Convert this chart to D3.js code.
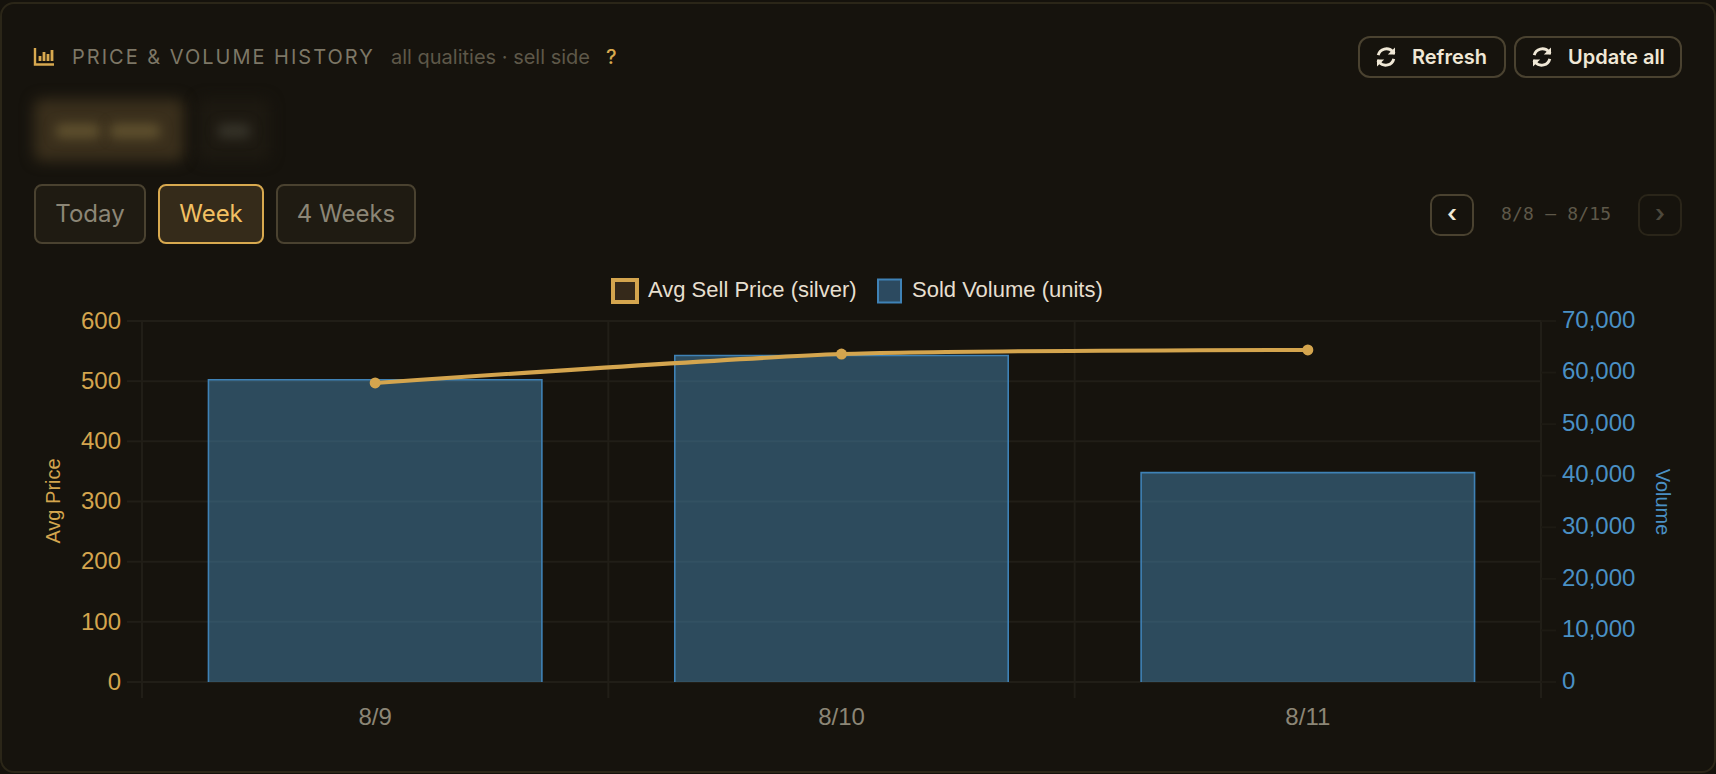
<!DOCTYPE html>
<html>
<head>
<meta charset="utf-8">
<script src="https://cdn.jsdelivr.net/npm/d3@7"></script>
<style>
  html, body { margin: 0; padding: 0; background: #15120c; overflow: hidden; }
  body { width: 1716px; height: 774px; position: relative; font-family: Inter, sans-serif; }
  .panel { position: absolute; left: 0; top: 2px; width: 1712px; height: 767px; background: #16130d;
           border: 2px solid #2b2618; border-radius: 14px; }
  .abs { position: absolute; white-space: nowrap; }
  .title { left: 72px; top: 45px; font-size: 20px; line-height: 24px; letter-spacing: 2px; color: #7d7766; }
  .sub { left: 391px; top: 45px; font-size: 20px; line-height: 24px; color: #5e5849; }
  .help { left: 606px; top: 45px; font-size: 20px; line-height: 24px; color: #d8a94f; font-weight: 500; }
  .btn { box-sizing: border-box; border: 2px solid #4a4230; border-radius: 12px; top: 36px; height: 42px;
         color: #f0e8d6; font-size: 20px; font-weight: 600; line-height: 38px; }
  .btn svg { position: absolute; left: 14px; top: 7px; }
  .btn span { position: absolute; top: 0; }
  .tab { box-sizing: border-box; top: 184px; height: 60px; border: 2px solid #4a4230; border-radius: 8px;
         background: #1f1b12; color: #8c8676; font-size: 24px; line-height: 56px; text-align: center; }
  .tab.on { background: #352b1a; border-color: #d8a94f; color: #f2c063; }
  .nav { box-sizing: border-box; top: 194px; width: 44px; height: 42px; border: 2px solid #4a4230; border-radius: 10px;
         text-align: center; color: #f0e8d6; font-size: 24px; font-weight: 600; line-height: 36px; }
  .nav.off { border-color: #2a2519; color: #4d483c; }
  .range { left: 1501px; top: 203px; font-family: "DejaVu Sans Mono", monospace; font-size: 18px; letter-spacing: 0.2px; line-height: 22px; color: #5e5849; }
  .chip { position: absolute; top: 99px; height: 62px; border-radius: 8px; filter: blur(7px); }
  .blurText { position: absolute; top: 124px; height: 14px; background: #61522f; border-radius: 4px; filter: blur(6px); }
  svg.chart { position: absolute; left: 0; top: 0; font-family: "Liberation Sans", Arial, sans-serif; }
</style>
</head>
<body>
<div class="panel"></div>
<script>
// chart values
const days = ["8/9", "8/10", "8/11"];
const avgPrice = [497, 545, 552];
const soldVolume = [58600, 63300, 40600];
const priceTicks = [0, 100, 200, 300, 400, 500, 600];
const volumeTicks = [0, 10000, 20000, 30000, 40000, 50000, 60000, 70000];
const tabs = ["Today", "Week", "4 Weeks"];

const GOLD = "#d4a54e";
const BLUE = "#4a90c4";
const GRID = "#211e17";

// ---- page furniture above the chart ----
const body = d3.select("body");

// bar chart icon next to the title
const icon = body.append("svg").attr("class", "abs")
  .style("left", "33px").style("top", "47px")
  .attr("width", 24).attr("height", 21);
icon.append("path").attr("d", "M2 1V17.5H21").attr("fill", "none").attr("stroke", "#d8a94f").attr("stroke-width", 2.4);
[[7, 9, 14], [11, 5, 14], [15, 7, 14], [19, 3, 14]].forEach(b => {
  icon.append("path").attr("d", `M${b[0]} ${b[1]}V${b[2]}`).attr("stroke", "#d8a94f").attr("stroke-width", 2.8);
});

body.append("div").attr("class", "abs title").text("PRICE & VOLUME HISTORY");
body.append("div").attr("class", "abs sub").text("all qualities · sell side");
body.append("div").attr("class", "abs help").text("?");

function refreshIcon(sel) {
  const s = sel.append("svg").attr("width", 24).attr("height", 24).attr("viewBox", "0 0 20 20");
  s.append("path").attr("d", "M3.5 8.5A7 7 0 0 1 15.5 5.5L17 7").attr("fill", "none").attr("stroke", "#f0e8d6").attr("stroke-width", 2.4);
  s.append("path").attr("d", "M17.5 2V8H11.5Z").attr("fill", "#f0e8d6");
  s.append("path").attr("d", "M16.5 11.5A7 7 0 0 1 4.5 14.5L3 13").attr("fill", "none").attr("stroke", "#f0e8d6").attr("stroke-width", 2.4);
  s.append("path").attr("d", "M2.5 18V12H8.5Z").attr("fill", "#f0e8d6");
}
[["Refresh", 1358, 148, 52], ["Update all", 1514, 168, 52]].forEach(b => {
  const el = body.append("div").attr("class", "abs btn")
    .style("left", b[1] + "px").style("width", b[2] + "px");
  refreshIcon(el);
  el.append("span").style("left", b[3] + "px").text(b[0]);
});

// blurred out item selector
body.append("div").attr("class", "chip").style("left", "34px").style("width", "150px").style("background", "#3a2f1c");
body.append("div").attr("class", "chip").style("left", "198px").style("width", "72px").style("background", "#1d1911");
body.append("div").attr("class", "blurText").style("left", "56px").style("width", "44px");
body.append("div").attr("class", "blurText").style("left", "110px").style("width", "50px");
body.append("div").attr("class", "blurText")
  .style("left", "218px").style("width", "32px").style("background", "#37342a");

const tabPos = [[34, 112], [158, 106], [276, 140]];
tabs.forEach((t, i) => {
  body.append("div").attr("class", "abs tab" + (t === "Week" ? " on" : ""))
    .style("left", tabPos[i][0] + "px").style("width", tabPos[i][1] + "px").text(t);
});

body.append("div").attr("class", "abs nav").style("left", "1430px").text("‹");
body.append("div").attr("class", "abs range").text("8/8 – 8/15");
body.append("div").attr("class", "abs nav off").style("left", "1638px").text("›");

// ---- chart ----
const width = 1716, height = 774;
const left = 142, right = 1541, top_ = 321, bottom = 682;

const svg = body.append("svg").attr("class", "chart").attr("width", width).attr("height", height);

const x = d3.scaleBand().domain(days).range([left, right]);
const barX = d3.scaleBand().domain(days).range([left, right]).paddingInner(0.285).paddingOuter(0.1425);
const yPrice = d3.scaleLinear().domain([0, 600]).range([bottom, top_]);
const yVol = d3.scaleLinear().domain([0, 70000]).range([bottom, top_]);

// vertical grid at category edges, running a little below the plot
const edges = [0, 1, 2, 3].map(i => left + i * x.step());
svg.append("g").selectAll("line").data(edges).join("line")
  .attr("x1", d => d).attr("x2", d => d)
  .attr("y1", top_).attr("y2", bottom + 16)
  .attr("stroke", GRID).attr("stroke-width", 2);

// horizontal grid + price axis
const leftAxis = svg.append("g").attr("transform", `translate(${left},0)`)
  .call(d3.axisLeft(yPrice).tickValues(priceTicks).offset(0).tickSizeOuter(0).tickSizeInner(15).tickPadding(6));
leftAxis.select(".domain").remove();
leftAxis.selectAll("line").attr("stroke", GRID).attr("stroke-width", 2);
leftAxis.selectAll("text").attr("fill", GOLD).style("font-size", "24px").style("font-family", "inherit");
leftAxis.selectAll(".tick").append("line").attr("class", "grid")
  .attr("x1", 0).attr("x2", right - left).attr("stroke", GRID).attr("stroke-width", 2);

// volume axis, tick marks only, no grid
const rightAxis = svg.append("g").attr("transform", `translate(${right},0)`)
  .call(d3.axisRight(yVol).tickValues(volumeTicks).offset(0).tickSizeOuter(0).tickSizeInner(15).tickPadding(6).tickFormat(d3.format(",")));
rightAxis.select(".domain").remove();
rightAxis.selectAll("line").attr("stroke", "#1d1a13").attr("stroke-width", 2);
rightAxis.selectAll("text").attr("fill", BLUE).attr("y", -1).style("font-size", "24px").style("font-family", "inherit");

// bars
svg.append("g").selectAll("rect").data(soldVolume).join("rect")
  .attr("x", (d, i) => barX(days[i]))
  .attr("y", d => yVol(d))
  .attr("width", barX.bandwidth())
  .attr("height", d => bottom - yVol(d))
  .attr("fill", "rgba(74,144,190,0.45)");
svg.append("g").selectAll("path").data(soldVolume).join("path")
  .attr("d", (d, i) => {
    const x0 = barX(days[i]), x1 = x0 + barX.bandwidth();
    return `M${x0} ${bottom}V${yVol(d)}H${x1}V${bottom}`;
  })
  .attr("fill", "none").attr("stroke", "#3f82b6").attr("stroke-width", 1.6);

// price line
const center = i => x(days[i]) + x.bandwidth() / 2;
const line = d3.line().x((d, i) => center(i)).y(d => yPrice(d)).curve(d3.curveCardinal.tension(0.4));
svg.append("path").datum(avgPrice).attr("d", line)
  .attr("fill", "none").attr("stroke", GOLD).attr("stroke-width", 4);
svg.append("g").selectAll("circle").data(avgPrice).join("circle")
  .attr("cx", (d, i) => center(i)).attr("cy", d => yPrice(d)).attr("r", 5.5).attr("fill", GOLD);

// x labels
svg.append("g").selectAll("text").data(days).join("text")
  .attr("x", (d, i) => center(i)).attr("y", 725).attr("text-anchor", "middle")
  .attr("fill", "#8c8676").style("font-size", "24px").text(d => d);

// axis titles
svg.append("text").attr("transform", "translate(60,501) rotate(-90)").attr("text-anchor", "middle")
  .attr("fill", GOLD).style("font-size", "20px").text("Avg Price");
svg.append("text").attr("transform", "translate(1656,502) rotate(90)").attr("text-anchor", "middle")
  .attr("fill", BLUE).style("font-size", "20px").text("Volume");

// legend
const legendItems = [
  { label: "Avg Sell Price (silver)", x: 611, w: 28, h: 26, sw: 4, stroke: GOLD, fill: "#35291a", tx: 648 },
  { label: "Sold Volume (units)", x: 877, w: 25, h: 25, sw: 2, stroke: "#3f82b6", fill: "#2c4a60", tx: 912 }
];
const legend = svg.append("g").selectAll("g").data(legendItems).join("g");
legend.append("rect")
  .attr("x", d => d.x + d.sw / 2).attr("y", d => 291 - d.h / 2 + d.sw / 2)
  .attr("width", d => d.w - d.sw).attr("height", d => d.h - d.sw)
  .attr("fill", d => d.fill).attr("stroke", d => d.stroke).attr("stroke-width", d => d.sw);
legend.append("text").attr("x", d => d.tx).attr("y", 297)
  .attr("fill", "#e6dfcf").style("font-size", "22px").text(d => d.label);
</script>
</body>
</html>
